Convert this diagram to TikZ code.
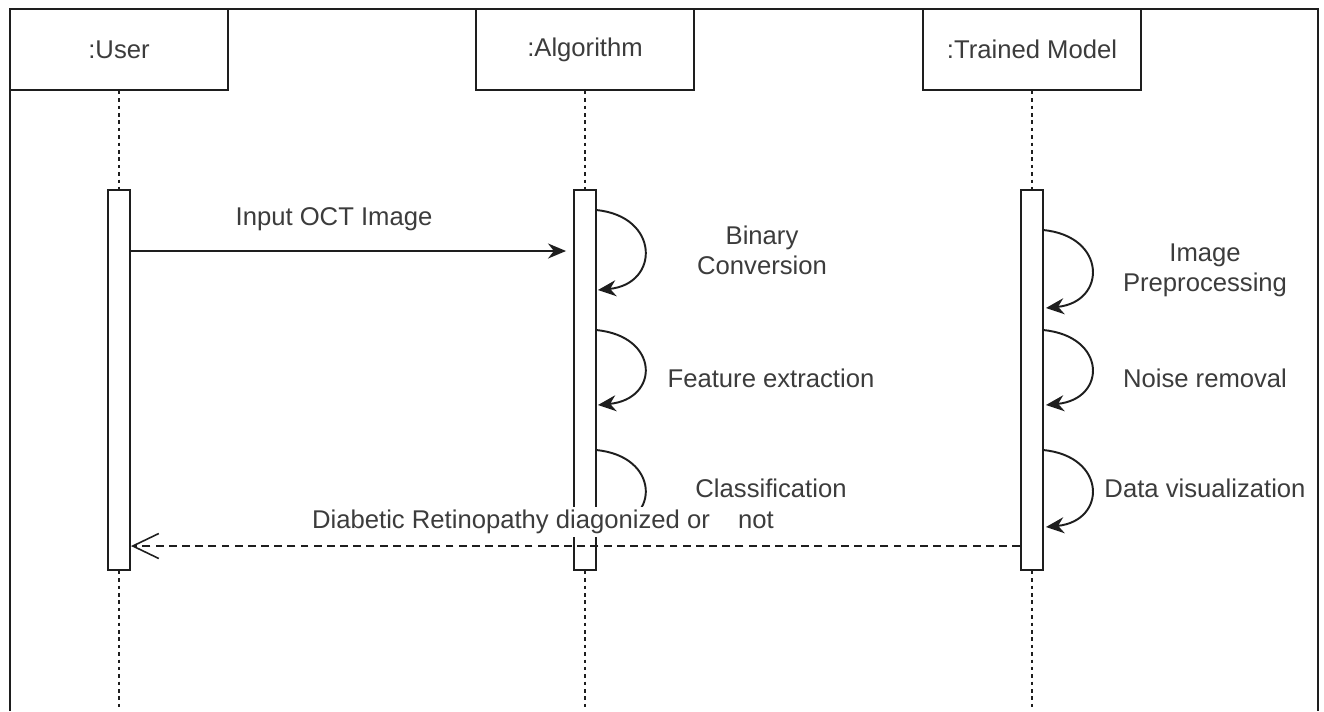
\documentclass[tikz,border=0pt]{standalone}
\usepackage{fontspec}
\setmainfont{Liberation Sans}
\definecolor{seqInk}{RGB}{30,30,30}
\definecolor{seqText}{RGB}{60,60,60}
\usetikzlibrary{arrows.meta,positioning,calc}

\begin{document}
\begin{tikzpicture}[x=0.02cm, y=-0.02cm,
  obj/.style={draw=seqInk, line width=1.1pt, fill=white, minimum width=218*0.02cm,
              minimum height=81*0.02cm, inner sep=0pt, text=seqText,
              font=\fontsize{14.6}{17}\selectfont},
  bar/.style={draw=seqInk, line width=1.1pt, fill=white, minimum width=22*0.02cm,
              minimum height=380*0.02cm, inner sep=0pt},
  life/.style={seqInk, line width=1.4pt, dash pattern=on 2pt off 2.2pt},
  msg/.style={-{Stealth[length=3.6mm, width=3mm]}, seqInk, line width=1.1pt},
  self/.style={-{Stealth[length=3.6mm, width=3.2mm]}, seqInk, line width=1.1pt},
  ret/.style={-{Straight Barb[length=5.2mm, width=5mm, line width=0.9pt]}, seqInk,
              line width=1pt, dash pattern=on 4.5pt off 3pt},
  lbl/.style={text=seqText, align=center, font=\fontsize{14.6}{17}\selectfont}
]
  \useasboundingbox (0,0) rectangle (1324,711);
  \fill[white] (0,0) rectangle (1324,711);

  % frame
  \draw[seqInk, line width=1.3pt] (10,711) -- (10,9) -- (1318,9) -- (1318,711);

  % objects and activations
  \node[obj] (user)  at (119,49.5)  {:User};
  \node[obj] (algo)  at (585,49.5)  {:Algorithm};
  \node[obj] (model) at (1032,49.5) {:Trained Model};

  \node[bar] (userBar)  at (119,380)  {};
  \node[bar] (algoBar)  at (585,380)  {};
  \node[bar] (modelBar) at (1032,380) {};

  \foreach \o in {user,algo,model} {
    \draw[life] (\o.south) -- (\o Bar.north);
    \draw[life] (\o Bar.south) -- (\o Bar.south |- 0,711);
  }

  % input message
  \coordinate (inY) at (0,251);
  \draw[msg] (userBar.east |- inY) -- ($(algoBar.west |- inY)+(-7,0)$);
  \node[lbl] (inLbl) at (334,219) {Input OCT Image};

  % algorithm steps
  \foreach \a/\b in {210/290, 330/405, 450/527} {
    \coordinate (as) at (596,\a);
    \coordinate (ae) at (598,\b);
    \draw[self] (as) .. controls (660,\a+6) and (660,\b-6) .. (ae);
  }
  \node[lbl] (binLbl)  at (762,250) {Binary\\Conversion};
  \node[lbl] (featLbl) at (771,378) {Feature extraction};
  \node[lbl] (clsLbl)  at (771,488) {Classification};

  % model steps
  \foreach \a/\b in {230/308, 330/405, 450/527} {
    \coordinate (ms) at (1043,\a);
    \coordinate (me) at (1046,\b);
    \draw[self] (ms) .. controls (1107,\a+6) and (1107,\b-6) .. (me);
  }
  \node[lbl] (prepLbl)  at (1205,270) {Image\\Preprocessing};
  \node[lbl] (noiseLbl) at (1205,378) {Noise removal};
  \node[lbl] (visLbl)   at (1205,488) {Data visualization};

  % result
  \coordinate (retY) at (0,546);
  \draw[ret] (modelBar.west |- retY) -- (userBar.east |- retY);
  \node[lbl, fill=white, inner sep=1.5pt] (retLbl) at (543,522)
    {Diabetic Retinopathy diagonized or\hspace{1.1em}not};
\end{tikzpicture}
\end{document}
